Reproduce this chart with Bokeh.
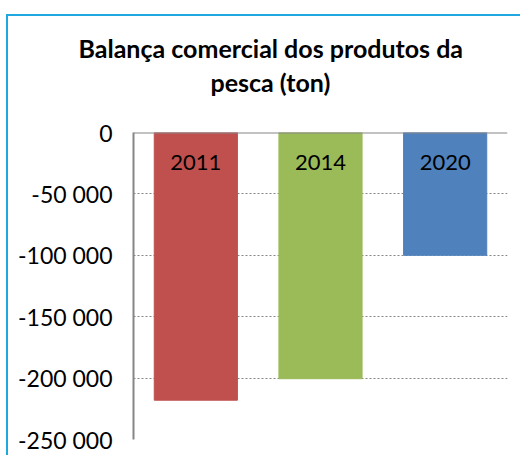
from bokeh.plotting import figure
from bokeh.models import (Range1d, FixedTicker, ColumnDataSource, LabelSet, Span, Title)
from bokeh.core.properties import value
from bokeh.embed import file_html
from bokeh.resources import INLINE

# ---- data ----
years = ["2011", "2014", "2020"]
balance = [-218000, -200500, -100000]
colors = ["#C0504D", "#9BBB59", "#4F81BD"]
tick_values = [0, -50000, -100000, -150000, -200000, -250000]
tick_labels = ["0", "-50 000", "-100 000", "-150 000", "-200 000", "-250 000"]
title_lines = ["Balança comercial dos produtos da", "pesca (ton)"]

FONT = "Lato"
GRAY = "#868686"

p = figure(
    width=514, height=441,
    x_range=years, y_range=Range1d(tick_values[-1], tick_values[0]),
    output_backend="svg", toolbar_location=None,
    x_axis_location=None,
    min_border_left=125, min_border_right=15, min_border_top=116, min_border_bottom=18,
)
p.styles = {"margin-top": "14px", "margin-left": "6px",
            "border-top": "2px solid #1FA8E0", "border-left": "2px solid #1FA8E0"}
p.outline_line_color = None
p.x_range.range_padding = 0

src = ColumnDataSource(dict(year=years, val=balance, color=colors, top=[0] * len(years)))
p.vbar(x="year", top="top", bottom="val", width=0.667, color="color", source=src)

labels = LabelSet(x="year", y="top", text="year", source=src, y_offset=-30,
                  text_align="center", text_baseline="middle",
                  text_font=value(FONT), text_font_size="22px", text_color="#000000")
p.add_layout(labels)

# y axis
p.yaxis.ticker = FixedTicker(ticks=tick_values)
p.yaxis.major_label_overrides = {v: l for v, l in zip(tick_values, tick_labels)}
p.yaxis.major_label_text_font = FONT
p.yaxis.major_label_text_font_size = "23px"
p.yaxis.major_label_text_color = "#000000"
p.yaxis.major_tick_line_color = None
p.yaxis.major_tick_out = 0
p.yaxis.major_tick_in = 0
p.yaxis.minor_tick_line_color = None
p.yaxis.major_label_standoff = 21
p.yaxis.axis_line_color = GRAY
p.yaxis.axis_line_width = 2

p.xgrid.grid_line_color = None
p.ygrid.ticker = FixedTicker(ticks=tick_values)
p.ygrid.grid_line_color = GRAY
p.ygrid.grid_line_dash = "2 2"
p.ygrid.grid_line_width = 1

p.add_layout(Span(location=0, dimension="width", line_color=GRAY, line_width=2))

# spacer between the plot area and the title block
p.add_layout(Title(text=" ", text_font_size="1px", standoff=27), "above")
# titles (second line added first so it sits closest to the plot)
p.add_layout(Title(text=title_lines[1], align="left", offset=77, text_font=FONT,
                   text_font_size="25px", text_font_style="bold", vertical_align="top",
                   text_color="#000000", standoff=8), "above")
p.add_layout(Title(text=title_lines[0], align="left", offset=-55, text_font=FONT,
                   text_font_size="25px", text_font_style="bold",
                   text_color="#000000", standoff=0), "above")

open("out.html", "w").write(file_html(p, INLINE))
